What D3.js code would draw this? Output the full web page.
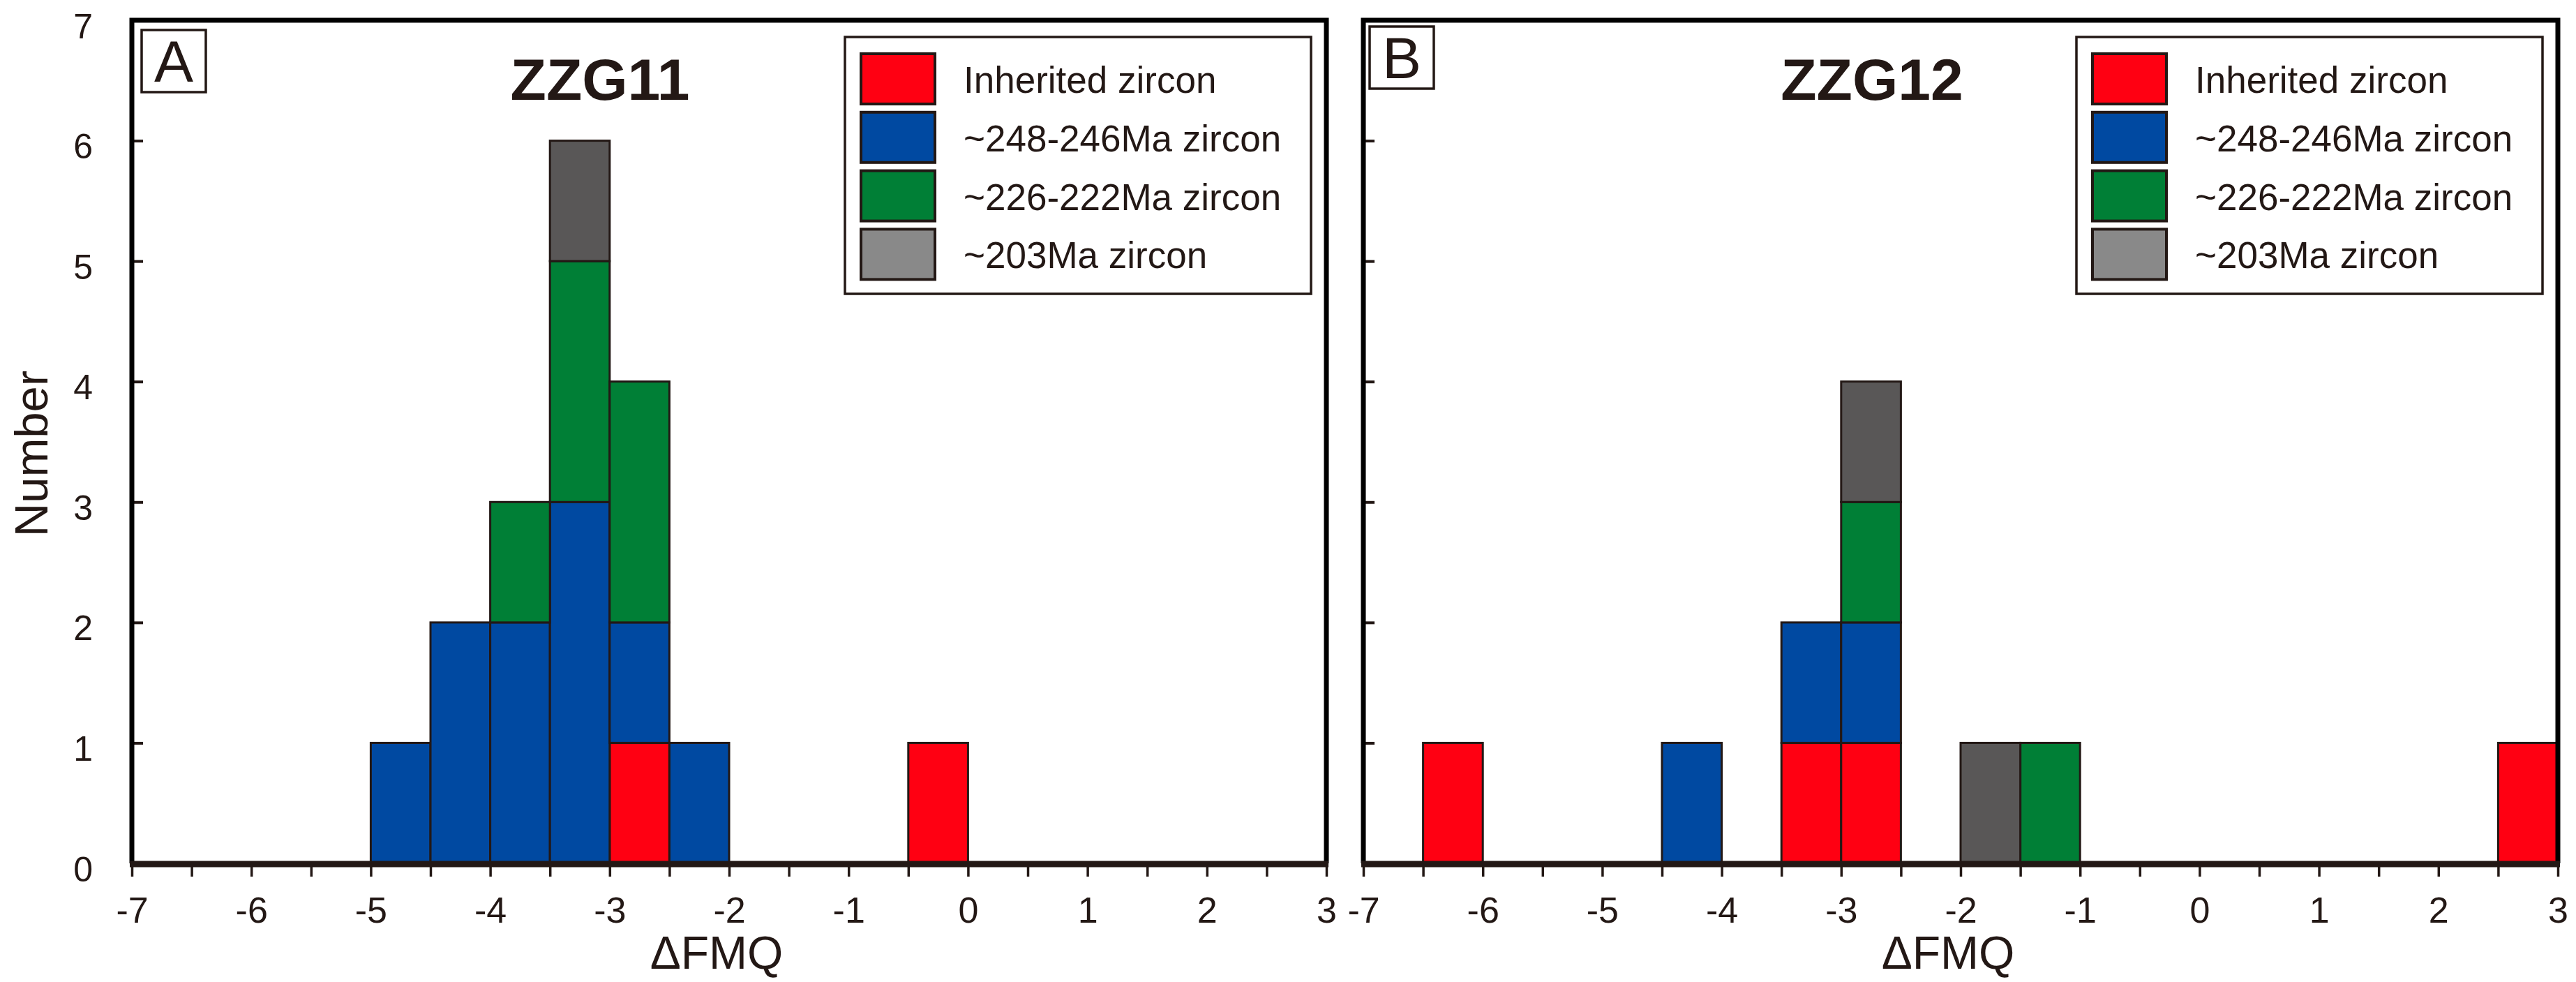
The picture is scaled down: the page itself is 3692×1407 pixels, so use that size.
<!DOCTYPE html>
<html>
<head>
<meta charset="utf-8">
<script src="https://cdn.jsdelivr.net/npm/d3@7"></script>
<style>
  body { margin: 0; background: #fff; }
  text { font-family: "Liberation Sans", Arial, sans-serif; fill: #231815; }
</style>
</head>
<body>
<svg id="chart"></svg>
<script>
// histogram bins (lower edge, width 0.5) of ΔFMQ
const binStarts = [-7, -6.5, -6, -5.5, -5, -4.5, -4, -3.5, -3, -2.5, -2, -1.5, -1, -0.5, 0, 0.5, 1, 1.5, 2, 2.5];
const binWidth = 0.5;

const seriesKeys = ["inherited", "early", "mid", "late"];
const seriesLabels = ["Inherited zircon", "~248-246Ma zircon", "~226-222Ma zircon", "~203Ma zircon"];
const barColors = ["#ff0012", "#0049a1", "#007f36", "#595757"];
const swatchColors = ["#ff0012", "#0049a1", "#007f36", "#898989"];

// ZZG11 counts per bin
const zzg11Inherited = [0, 0, 0, 0, 0, 0, 0, 0, 1, 0, 0, 0, 0, 1, 0, 0, 0, 0, 0, 0];
const zzg11Early     = [0, 0, 0, 0, 1, 2, 2, 3, 1, 1, 0, 0, 0, 0, 0, 0, 0, 0, 0, 0];
const zzg11Mid       = [0, 0, 0, 0, 0, 0, 1, 2, 2, 0, 0, 0, 0, 0, 0, 0, 0, 0, 0, 0];
const zzg11Late      = [0, 0, 0, 0, 0, 0, 0, 1, 0, 0, 0, 0, 0, 0, 0, 0, 0, 0, 0, 0];

// ZZG12 counts per bin
const zzg12Inherited = [0, 1, 0, 0, 0, 0, 0, 1, 1, 0, 0, 0, 0, 0, 0, 0, 0, 0, 0, 1];
const zzg12Early     = [0, 0, 0, 0, 0, 1, 0, 1, 1, 0, 0, 0, 0, 0, 0, 0, 0, 0, 0, 0];
const zzg12Mid       = [0, 0, 0, 0, 0, 0, 0, 0, 1, 0, 0, 1, 0, 0, 0, 0, 0, 0, 0, 0];
const zzg12Late      = [0, 0, 0, 0, 0, 0, 0, 0, 1, 0, 1, 0, 0, 0, 0, 0, 0, 0, 0, 0];

const xTickValues = [-7, -6.5, -6, -5.5, -5, -4.5, -4, -3.5, -3, -2.5, -2, -1.5, -1, -0.5, 0, 0.5, 1, 1.5, 2, 2.5, 3];
const yTickValues = [0, 1, 2, 3, 4, 5, 6, 7];

const W = 3692, H = 1407;
const ink = "#231815";
const plotTop = 29, plotBottom = 1237;

const panels = [
    { tag: "A", title: "ZZG11", left: 189, right: 1901, titleX: 860, tagDx: 14, tagY: 43, yLabels: true,
      series: [zzg11Inherited, zzg11Early, zzg11Mid, zzg11Late] },
    { tag: "B", title: "ZZG12", left: 1954, right: 3666, titleX: 2683, tagDx: 9, tagY: 38, yLabels: false,
      series: [zzg12Inherited, zzg12Early, zzg12Mid, zzg12Late] }
];

const svg = d3.select("#chart").attr("width", W).attr("height", H);

const y = d3.scaleLinear().domain([0, 7]).range([plotBottom, plotTop]);

panels.forEach((p) => {
    const x = d3.scaleLinear().domain([-7, 3]).range([p.left, p.right]);
    const g = svg.append("g");

    const rows = binStarts.map((b, i) => {
        const r = { x0: b };
        seriesKeys.forEach((k, j) => (r[k] = p.series[j][i]));
        return r;
    });
    const stacked = d3.stack().keys(seriesKeys)(rows);

    // bars
    g.append("g")
        .selectAll("g")
        .data(stacked)
        .join("g")
        .attr("fill", (d, i) => barColors[i])
        .selectAll("rect")
        .data((d) => d.filter((v) => v[1] > v[0]))
        .join("rect")
        .attr("x", (d) => x(d.data.x0))
        .attr("width", (d) => x(d.data.x0 + binWidth) - x(d.data.x0))
        .attr("y", (d) => y(d[1]))
        .attr("height", (d) => y(d[0]) - y(d[1]))
        .attr("stroke", ink)
        .attr("stroke-width", 3);

    // x axis (ticks downward)
    const xAxis = g.append("g")
        .attr("transform", `translate(0,${plotBottom})`)
        .call(
            d3.axisBottom(x)
                .tickValues(xTickValues)
                .tickSizeInner(19)
                .tickSizeOuter(0)
                .tickPadding(29)
                .tickFormat((d) => (Number.isInteger(d) ? String(d) : ""))
        );
    xAxis.select(".domain").remove();
    xAxis.selectAll("line").attr("stroke", ink).attr("stroke-width", 3.5);
    xAxis.selectAll("text").attr("font-size", 52).attr("fill", ink).style("font-family", "'Liberation Sans', Arial, sans-serif");

    // y axis (ticks inward)
    const yAxis = g.append("g")
        .attr("transform", `translate(${p.left},0)`)
        .call(
            d3.axisLeft(y)
                .tickValues(yTickValues)
                .tickSizeInner(-16)
                .tickSizeOuter(0)
                .tickPadding(56)
                .tickFormat((d) => (p.yLabels ? String(d) : ""))
        );
    yAxis.select(".domain").remove();
    yAxis.selectAll("line").attr("stroke", ink).attr("stroke-width", 4);
    yAxis.selectAll("text").attr("font-size", 50).attr("dy", "0.5em").attr("fill", ink).style("font-family", "'Liberation Sans', Arial, sans-serif");

    // frame
    g.append("path")
        .attr("d", `M${p.left},${plotBottom} V${plotTop} H${p.right} V${plotBottom}`)
        .attr("fill", "none")
        .attr("stroke", "#000")
        .attr("stroke-width", 7);
    g.append("line")
        .attr("x1", p.left - 3).attr("x2", p.right + 3)
        .attr("y1", plotBottom + 1).attr("y2", plotBottom + 1)
        .attr("stroke", ink)
        .attr("stroke-width", 9);

    // panel tag
    g.append("rect")
        .attr("x", p.left + p.tagDx).attr("y", p.tagY)
        .attr("width", 92).attr("height", 89)
        .attr("fill", "#fff")
        .attr("stroke", ink)
        .attr("stroke-width", 3.5);
    g.append("text")
        .attr("x", p.left + p.tagDx + 46).attr("y", p.tagY + 74)
        .attr("text-anchor", "middle")
        .attr("font-size", 84)
        .text(p.tag);

    // sample name
    g.append("text")
        .attr("x", p.titleX).attr("y", 143)
        .attr("text-anchor", "middle")
        .attr("font-size", 84)
        .attr("font-weight", "bold")
        .text(p.title);

    // legend
    const lx = p.right - 22 - 668;
    const legend = g.append("g").attr("transform", `translate(${lx},53)`);
    legend.append("rect")
        .attr("width", 668).attr("height", 368)
        .attr("fill", "#fff")
        .attr("stroke", ink)
        .attr("stroke-width", 3.5);
    const item = legend.selectAll("g.item")
        .data(seriesLabels)
        .join("g")
        .attr("class", "item")
        .attr("transform", (d, i) => `translate(23,${24 + i * 83.8})`);
    item.append("rect")
        .attr("width", 106).attr("height", 72)
        .attr("fill", (d, i) => swatchColors[i])
        .attr("stroke", ink)
        .attr("stroke-width", 4);
    item.append("text")
        .attr("x", 147).attr("y", 56)
        .attr("font-size", 53)
        .text((d) => d);

    // x title
    g.append("text")
        .attr("x", (p.left + p.right) / 2 - 18).attr("y", 1388)
        .attr("text-anchor", "middle")
        .attr("font-size", 66)
        .text("ΔFMQ");
});

svg.append("text")
    .attr("transform", "translate(68,650) rotate(-90)")
    .attr("text-anchor", "middle")
    .attr("font-size", 67)
    .text("Number");
</script>
</body>
</html>
